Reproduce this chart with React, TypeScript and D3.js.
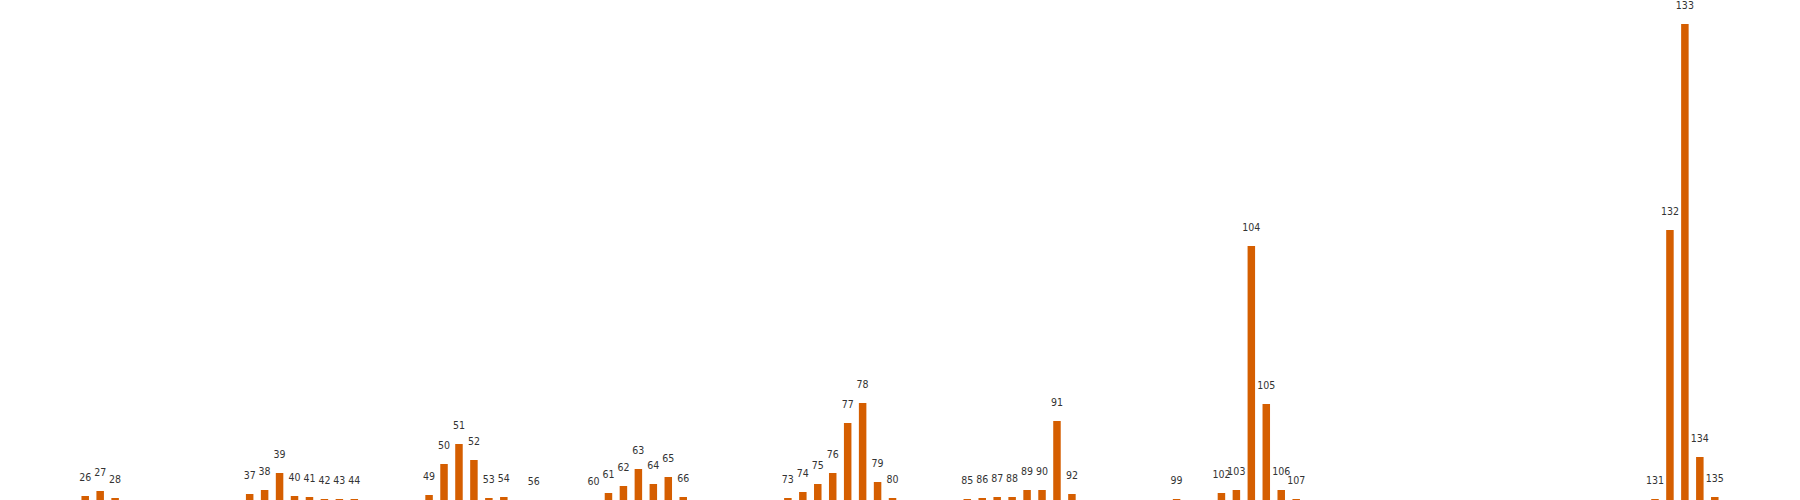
import React, { useRef, useEffect } from 'react';
import * as d3 from 'd3';

// bin index shown above each bar
const bins = [
  26, 27, 28,
  37, 38, 39, 40, 41, 42, 43, 44,
  49, 50, 51, 52, 53, 54, 56,
  60, 61, 62, 63, 64, 65, 66,
  73, 74, 75, 76, 77, 78, 79, 80,
  85, 86, 87, 88, 89, 90, 91, 92,
  99, 102, 103, 104, 105, 106, 107,
  131, 132, 133, 134, 135
];

// bar heights
const counts = [
  4, 9, 2,
  6, 10, 27, 4, 3, 1, 1, 1,
  5, 36, 56, 40, 2, 3, 0,
  0, 7, 14, 31, 16, 23, 3,
  2, 8, 16, 27, 77, 97, 18, 2,
  1, 2, 3, 3, 10, 10, 79, 6,
  1, 7, 10, 254, 96, 10, 1,
  1, 270, 476, 43, 3
];

const binDomain = [20.3, 140.7];
const countDomain = [0, 500];

function App() {
  const ref = useRef<SVGSVGElement>(null);

  useEffect(() => {
    const svg = d3.select(ref.current);
    svg.selectAll("*").remove();

    const width = 1800;
    const height = 500;
    const barWidth = 7.5;

    const data = bins.map((b, i) => ({ bin: b, count: counts[i] }));

    const x = d3.scaleLinear().domain(binDomain).range([0, width]);
    const y = d3.scaleLinear().domain(countDomain).range([height, 0]);

    svg.attr("width", width)
       .attr("height", height)
       .style("background-color", "white");

    const g = svg.append("g");

    g.selectAll("rect")
      .data(data)
      .enter().append("rect")
        .attr("x", d => x(d.bin) - barWidth / 2)
        .attr("y", d => y(d.count))
        .attr("width", barWidth)
        .attr("height", d => height - y(d.count))
        .attr("fill", "#d55e00");

    g.selectAll("text")
      .data(data)
      .enter().append("text")
        .attr("x", d => x(d.bin))
        .attr("y", d => y(d.count) - 15)
        .attr("text-anchor", "middle")
        .style("font-family", "'Liberation Sans Narrow', 'DejaVu Sans Condensed', sans-serif")
        .style("font-size", "10.5px")
        .style("fill", "#333")
        .text(d => d.bin);
  }, []);

  return (
    <svg ref={ref} style={{ position: "absolute", left: 0, top: 0 }}></svg>
  );
}

export default App;
